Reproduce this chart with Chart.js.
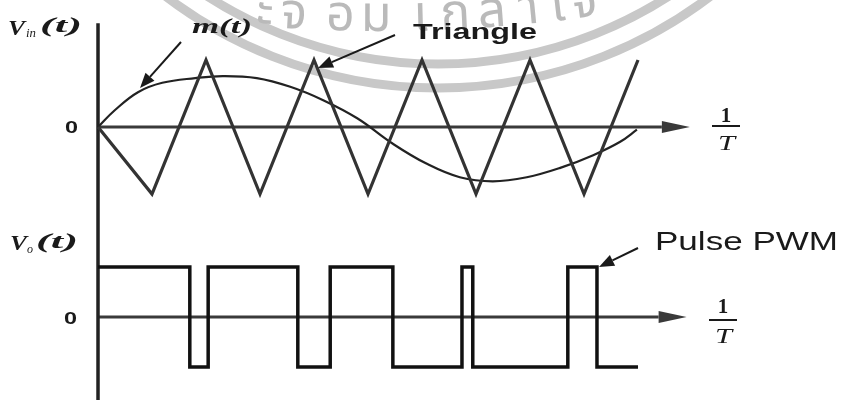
<!DOCTYPE html>
<html>
<head>
<meta charset="utf-8">
<script src="https://cdn.jsdelivr.net/npm/chart.js@4.4.1/dist/chart.umd.min.js"></script>
<style>
  html, body { margin: 0; background: #fff; }
  #wrap { width: 843px; height: 400px; }
</style>
</head>
<body>
<div id="wrap"><canvas id="pwm"></canvas></div>
<script>
// time is measured in half-periods of the triangle carrier, t = 0 on the vertical axis
const triT = [0, 1, 2, 3, 4, 5, 6, 7, 8, 9, 10];
const triV = [0, -1, 1, -1, 1, -1, 1, -1, 1, -1, 1];

// modulating signal m(t)
const sineT = [0, 0.31, 0.74, 1.19, 1.80, 2.31, 2.94, 3.56, 4.17, 4.80, 5.46, 6.09, 6.70, 7.31, 7.94, 8.56, 9.17, 9.67, 9.98];
const sineV = [0, 0.25, 0.52, 0.66, 0.73, 0.76, 0.73, 0.60, 0.40, 0.13, -0.25, -0.55, -0.75, -0.81, -0.75, -0.61, -0.42, -0.22, -0.04];

// PWM output: level that starts at each edge
const pulseT = [0, 1.70, 2.04, 3.70, 4.30, 5.46, 6.74, 6.94, 8.70, 9.24, 10.0];
const pulseV = [1, -1, 1, -1, 1, -1, 1, -1, 1, -1, -1];

// watermark letters (only the part that shows)
const markChars = ['ะ', 'จ', 'อ', 'ม', 'เ', 'ก', 'ล้', 'า', 'ใ', 'จ'];
const markX = [264, 293, 340, 376, 421, 456, 493, 530, 560, 586];

const pts = (xs, ys) => xs.map((x, i) => ({ x: x, y: ys[i] }));

function fitText(ctx, s, x, y, font, w) {
    ctx.font = font;
    const m = ctx.measureText(s).width;
    ctx.save();
    ctx.translate(x, y);
    ctx.scale(w / m, 1);
    ctx.fillText(s, 0, 0);
    ctx.restore();
}

function arrow(ctx, x1, y1, x2, y2, len, half, lw) {
    const a = Math.atan2(y2 - y1, x2 - x1);
    const bx = x2 - len * Math.cos(a), by = y2 - len * Math.sin(a);
    ctx.lineWidth = lw;
    ctx.beginPath();
    ctx.moveTo(x1, y1);
    ctx.lineTo(bx, by);
    ctx.stroke();
    ctx.beginPath();
    ctx.moveTo(x2, y2);
    ctx.lineTo(bx + half * Math.sin(a), by - half * Math.cos(a));
    ctx.lineTo(bx - half * Math.sin(a), by + half * Math.cos(a));
    ctx.closePath();
    ctx.fill();
}

function fraction(ctx, cx, yOne, yBar, yT) {
    ctx.textAlign = 'center';
    ctx.font = 'bold 21px "Liberation Serif"';
    ctx.fillText('1', cx, yOne);
    ctx.textAlign = 'left';
    fitText(ctx, 'T', cx - 8, yT, 'italic 21px "Liberation Serif"', 17);
    ctx.lineWidth = 2;
    ctx.beginPath();
    ctx.moveTo(cx - 14, yBar);
    ctx.lineTo(cx + 14, yBar);
    ctx.stroke();
}

const decor = {
    id: 'decor',
    beforeDraw(chart) {
        const ctx = chart.ctx;
        ctx.save();
        ctx.fillStyle = '#fff';
        ctx.fillRect(0, 0, chart.width, chart.height);
        // faint seal in the background
        ctx.strokeStyle = '#c8c8c8';
        ctx.lineWidth = 9;
        ctx.beginPath();
        ctx.arc(438, -362, 426, 0, Math.PI);
        ctx.stroke();
        ctx.beginPath();
        ctx.arc(438, -362, 450, 0, Math.PI);
        ctx.stroke();
        ctx.fillStyle = '#bababa';
        ctx.font = '50px "Noto Sans Thai", "Noto Sans", sans-serif';
        ctx.textAlign = 'center';
        markChars.forEach((c, i) => {
            const th = Math.asin((markX[i] - 380) / 1527);
            ctx.save();
            ctx.translate(380 + 1527 * Math.sin(th), -1496 + 1527 * Math.cos(th));
            ctx.rotate(-th);
            ctx.fillText(c, 0, 0);
            ctx.restore();
        });
        ctx.restore();
    },
    beforeDatasetsDraw(chart) {
        const ctx = chart.ctx;
        const xs = chart.scales.x, top = chart.scales.yTop, bot = chart.scales.yBot;
        const x0 = xs.getPixelForValue(0);
        const yT = top.getPixelForValue(0), yB = bot.getPixelForValue(0);
        ctx.save();
        ctx.strokeStyle = '#3a3a3a';
        ctx.fillStyle = '#3a3a3a';
        arrow(ctx, x0, yT, xs.getPixelForValue(10.96), yT, 28, 6, 3);
        arrow(ctx, x0, yB, xs.getPixelForValue(10.90), yB, 28, 6, 3);
        ctx.strokeStyle = '#222';
        ctx.lineWidth = 3.5;
        ctx.beginPath();
        ctx.moveTo(x0, top.getPixelForValue(1.55));
        ctx.lineTo(x0, chart.height);
        ctx.stroke();
        ctx.restore();
    },
    afterDatasetsDraw(chart) {
        const ctx = chart.ctx;
        const top = chart.scales.yTop, bot = chart.scales.yBot;
        const yT = top.getPixelForValue(0), yB = bot.getPixelForValue(0);
        ctx.save();
        ctx.fillStyle = '#1a1a1a';
        ctx.strokeStyle = '#1a1a1a';
        ctx.textBaseline = 'alphabetic';

        // input axis label
        fitText(ctx, 'V', 8, 35, 'italic bold 22px "Liberation Serif"', 17);
        fitText(ctx, 'in', 26, 37, 'italic 12px "Liberation Serif"', 10);
        fitText(ctx, '(t)', 40, 32, 'italic bold 22px "Liberation Serif"', 42);
        // output axis label
        fitText(ctx, 'V', 10, 250, 'italic bold 22px "Liberation Serif"', 17);
        fitText(ctx, 'o', 27, 253, 'italic 12px "Liberation Serif"', 6);
        fitText(ctx, '(t)', 36, 248, 'italic bold 22px "Liberation Serif"', 42);

        // zero marks
        fitText(ctx, '0', 65, yT + 6, 'bold 16px "Liberation Sans"', 13);
        fitText(ctx, '0', 64, yB + 7, 'bold 16px "Liberation Sans"', 13);

        // 1/T at the end of each time axis
        fraction(ctx, 726, 122, 126, 150);
        fraction(ctx, 723, 313, 320, 343);

        // annotations
        fitText(ctx, 'm(t)', 192, 33, 'italic bold 20px "Liberation Serif"', 60);
        fitText(ctx, 'Triangle', 413, 39, 'bold 22px "Liberation Sans"', 124);
        fitText(ctx, 'Pulse PWM', 655, 250, '25px "Liberation Sans"', 183);
        arrow(ctx, 181, 42, 140, 88, 15, 6, 2);
        arrow(ctx, 395, 35, 318, 68, 15, 6, 2);
        arrow(ctx, 638, 248, 599, 267, 15, 6, 2);
        ctx.restore();
    }
};

new Chart(document.getElementById('pwm'), {
    type: 'line',
    data: {
        datasets: [
            {
                label: 'Triangle',
                data: pts(triT, triV),
                yAxisID: 'yTop',
                borderColor: '#333',
                borderWidth: 3.2,
                pointRadius: 0,
                tension: 0
            },
            {
                label: 'm(t)',
                data: pts(sineT, sineV),
                yAxisID: 'yTop',
                borderColor: '#222',
                borderWidth: 2.2,
                pointRadius: 0,
                tension: 0.4
            },
            {
                label: 'Pulse PWM',
                data: pts(pulseT, pulseV),
                yAxisID: 'yBot',
                borderColor: '#111',
                borderWidth: 3.5,
                pointRadius: 0,
                stepped: true
            }
        ]
    },
    options: {
        responsive: true,
        maintainAspectRatio: false,
        animation: false,
        layout: { padding: 0 },
        plugins: { legend: { display: false }, tooltip: { enabled: false } },
        scales: {
            x: { type: 'linear', min: -1.815, max: 13.796, display: false },
            yTop: { type: 'linear', min: -4.075, max: 1.896, display: false },
            yBot: { type: 'linear', min: -1.66, max: 6.34, display: false }
        }
    },
    plugins: [decor]
});
</script>
</body>
</html>
